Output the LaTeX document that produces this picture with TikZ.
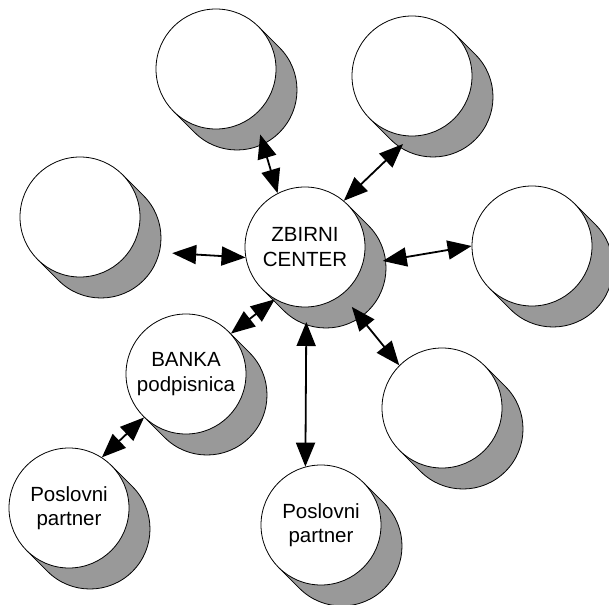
\documentclass[tikz,border=0pt]{standalone}
\usepackage{fontspec}
\setmainfont{Liberation Sans}
\usetikzlibrary{arrows.meta,calc}
\pgfdeclarelayer{back}
\pgfsetlayers{back,main}
\definecolor{shadowgrey}{HTML}{999999}

\begin{document}
\begin{tikzpicture}[
  x=1pt, y=1pt,
  disc/.style={circle, draw=black, line width=0.8pt, fill=white,
    minimum size=120pt, inner sep=0pt, align=center,
    font=\fontsize{20.5pt}{24.5pt}\selectfont},
  shade/.style={draw=black, line width=0.8pt, fill=shadowgrey, line join=round},
  link/.style={line width=1.8pt,
    {Triangle[length=24pt,width=19pt]}-{Triangle[length=24pt,width=19pt]}}
]
\useasboundingbox (0,0) rectangle (609,-604);

% discs
\node[disc] (tl) at (216,-69)  {};
\node[disc] (tr) at (412,-76)  {};
\node[disc] (lf) at (80,-217)  {};
\node[disc] (c)  at (305,-247) {ZBIRNI\\CENTER};
\node[disc] (rt) at (532,-246) {};
\node[disc] (br) at (442,-408) {};
\node[disc] (bk) at (186,-374) {BANKA\\podpisnica};
\node[disc] (p1) at (69,-508)  {Poslovni\\partner};
\node[disc] (p2) at (321,-525) {Poslovni\\partner};

% extruded grey body behind every disc
\begin{pgfonlayer}{back}
  \foreach \n in {tl,tr,lf,c,rt,br,bk,p1,p2}{
    \draw[shade] ($(\n)+(45:60pt)$) -- ++(21pt,-21pt)
      arc[start angle=45, end angle=-135, radius=60pt]
      -- ++(-21pt,21pt) -- cycle;
  }
\end{pgfonlayer}

% two-way links
\draw[link] ($(tl)+(-56:79pt)$)    -- (c.117);
\draw[link] ($(tr)+(-97.5:68.6pt)$) -- (c.50);
\draw[link] ($(lf)+(-21.4:99pt)$)  -- (c.190);
\draw[link] ($(c)+(-10.2:79pt)$)   -- (rt.180);
\draw[link] ($(c)+(-52:76pt)$)     -- (br.135);
\draw[link] ($(c)+(-89:75pt)$)     -- (p2.105);
\draw[link] (bk.42)  -- (c.-120);
\draw[link] (bk.-134) -- (p1.57);
\end{tikzpicture}
\end{document}
